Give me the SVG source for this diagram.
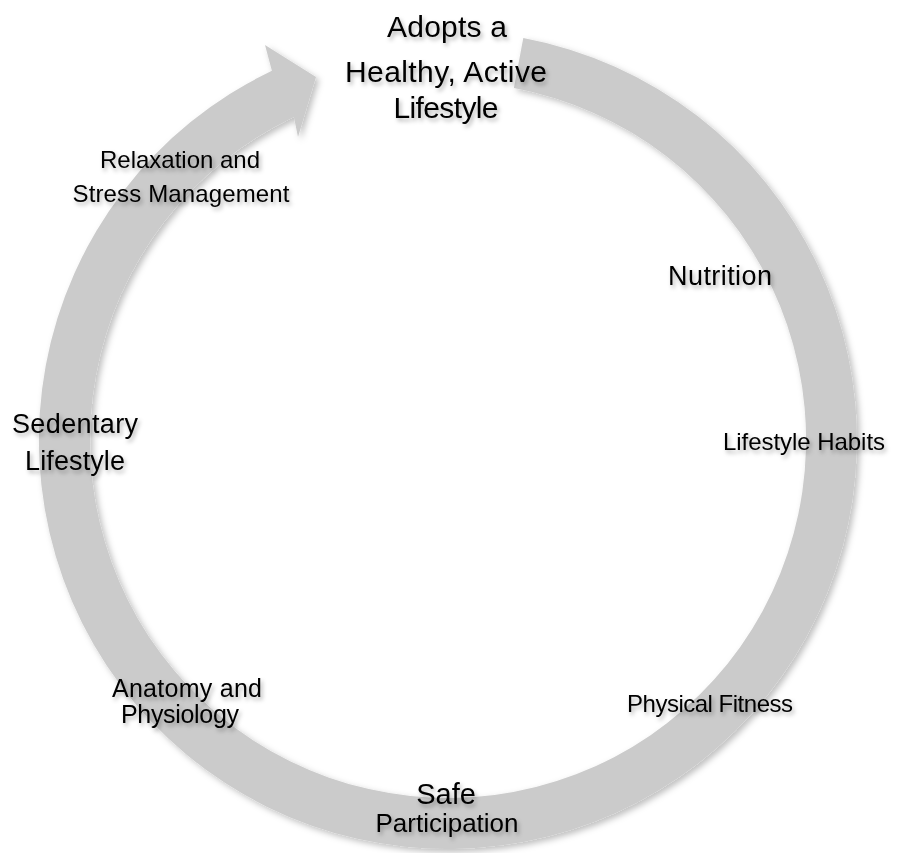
<svg xmlns="http://www.w3.org/2000/svg" width="917" height="853" viewBox="0 0 917 853">
  <defs>
    <filter id="ringShadow" x="-10%" y="-10%" width="120%" height="120%">
      <feDropShadow dx="3" dy="3" stdDeviation="3" flood-color="#000" flood-opacity="0.25"/>
    </filter>
    <filter id="textShadow" x="-10%" y="-30%" width="120%" height="160%">
      <feDropShadow dx="2" dy="3" stdDeviation="2" flood-color="#000" flood-opacity="0.3"/>
    </filter>
    <style>
      .ring { fill: #cbcbcb; filter: url(#ringShadow); }
      .lbl { font-family: "Liberation Sans", "DejaVu Sans", sans-serif; font-size: 24px; fill: #000; text-anchor: middle; filter: url(#textShadow); }
      .title { font-size: 30px; }
      .big { font-size: 27px; }
      .mid { font-size: 26px; }
      .m25 { font-size: 25px; }
      .safe { font-size: 29px; }
    </style>
  </defs>
  <rect width="917" height="853" fill="#fff"/>
  <g id="connectors">
    <path class="ring" d="M 523.3,38 A 409 409 0 1 1 271.9,70.8 L 265,45 L 316,77 L 298,137 L 293.9,116.9 A 358 358 0 1 0 513.9,88.1 Z"/>
  </g>
  <g id="node-goal">
    <text class="lbl title" x="447" y="37" textLength="120">Adopts a</text>
    <text class="lbl title" x="446" y="82" textLength="202">Healthy, Active</text>
    <text class="lbl title" x="446" y="118" textLength="105">Lifestyle</text>
  </g>
  <g id="node-relaxation">
    <text class="lbl" x="180" y="168" textLength="160">Relaxation and</text>
    <text class="lbl" x="181" y="202" textLength="217">Stress Management</text>
  </g>
  <g id="node-nutrition">
    <text class="lbl big" x="720" y="285" textLength="104">Nutrition</text>
  </g>
  <g id="node-sedentary">
    <text class="lbl big" x="75" y="433" textLength="126">Sedentary</text>
    <text class="lbl big" x="75" y="470" textLength="100">Lifestyle</text>
  </g>
  <g id="node-habits">
    <text class="lbl" x="804" y="450" textLength="162">Lifestyle Habits</text>
  </g>
  <g id="node-fitness">
    <text class="lbl" x="710" y="712" textLength="166">Physical Fitness</text>
  </g>
  <g id="node-anatomy">
    <text class="lbl m25" x="187" y="697" textLength="150">Anatomy and</text>
    <text class="lbl m25" x="180" y="723" textLength="118">Physiology</text>
  </g>
  <g id="node-safe">
    <text class="lbl safe" x="446" y="804">Safe</text>
    <text class="lbl mid" x="447" y="832" textLength="143">Participation</text>
  </g>
</svg>
